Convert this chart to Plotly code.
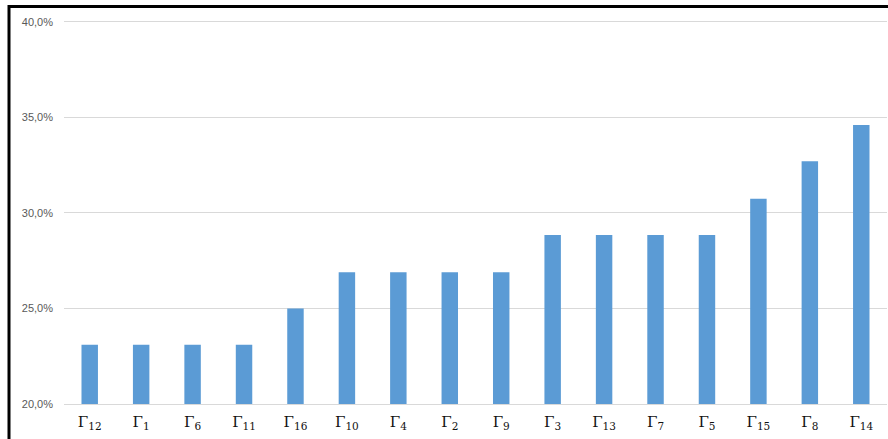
import plotly.graph_objects as go

categories = ["12", "1", "6", "11", "16", "10", "4", "2", "9", "3", "13", "7", "5", "15", "8", "14"]
values = [23.1, 23.1, 23.1, 23.1, 25.0, 26.9, 26.9, 26.9, 26.9, 28.85, 28.85, 28.85, 28.85, 30.75, 32.7, 34.6]
tick_vals = [20, 25, 30, 35, 40]
tick_text = ["20,0%", "25,0%", "30,0%", "35,0%", "40,0%"]

labels = ["Γ<sub>%s</sub>" % c for c in categories]

W, H = 888, 439
L, R, T, B = 64, 1, 20, 35

fig = go.Figure(go.Bar(x=labels, y=values, marker=dict(color="#5B9BD5", line=dict(width=0)),
                       width=0.32))

pw = W - L - R
ph = H - T - B
def px_to_paper_x(px):
    return (px - L) / pw
def px_to_paper_y(py):
    return 1 - (py - T) / ph

fig.update_layout(
    width=W, height=H,
    margin=dict(l=L, r=R, t=T, b=B),
    paper_bgcolor="white", plot_bgcolor="white",
    showlegend=False,
    xaxis=dict(
        type="category",
        showgrid=False,
        showline=True,
        linecolor="#D9D9D9",
        linewidth=1,
        ticks="",
        ticklabelstandoff=4,
        tickfont=dict(family="DejaVu Serif", size=15, color="#111111"),
    ),
    yaxis=dict(
        range=[20, 40.1],
        tickvals=tick_vals,
        ticktext=tick_text,
        showgrid=True,
        gridcolor="#D9D9D9",
        gridwidth=1,
        zeroline=False,
        showline=False,
        ticks="",
        ticklabelstandoff=10,
        tickfont=dict(family="Liberation Sans", size=11, color="#595959"),
    ),
    shapes=[
        dict(type="line", xref="paper", yref="paper",
             x0=px_to_paper_x(9), x1=px_to_paper_x(9),
             y0=px_to_paper_y(5), y1=px_to_paper_y(H + 5),
             line=dict(color="black", width=3)),
        dict(type="line", xref="paper", yref="paper",
             x0=px_to_paper_x(8), x1=px_to_paper_x(W + 5),
             y0=px_to_paper_y(6.5), y1=px_to_paper_y(6.5),
             line=dict(color="black", width=3)),
    ],
)

fig.write_html("out.html", config={"displayModeBar": False},
               post_script="document.body.style.margin='0';")
